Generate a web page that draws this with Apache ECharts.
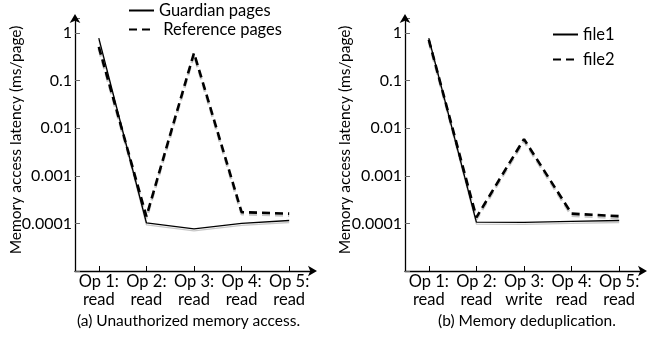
<!DOCTYPE html>
<html><head><meta charset="utf-8">
<script src="https://cdn.jsdelivr.net/npm/echarts@6/dist/echarts.min.js"></script>
<style>html,body{margin:0;padding:0;background:#fff}#c{width:649px;height:337px}</style>
</head><body><div id="c"></div>
<script>
const categoriesA = ['Op 1:\nread', 'Op 2:\nread', 'Op 3:\nread', 'Op 4:\nread', 'Op 5:\nread'];
const categoriesB = ['Op 1:\nread', 'Op 2:\nread', 'Op 3:\nwrite', 'Op 4:\nread', 'Op 5:\nread'];
const guardianPages = [0.78, 1.03e-4, 7.7e-5, 1.0e-4, 1.15e-4];
const referencePages = [0.51, 1.4e-4, 0.38, 1.72e-4, 1.6e-4];
const file1 = [0.78, 1.06e-4, 1.05e-4, 1.1e-4, 1.15e-4];
const file2 = [0.72, 1.34e-4, 5.9e-3, 1.6e-4, 1.42e-4];
const yTickLabels = ['1', '0.1', '0.01', '0.001', '0.0001'];
const captionA = '(a) Unauthorized memory access.';
const captionB = '(b) Memory deduplication.';
const yName = 'Memory access latency (ms/page)';

const FONT = 'Lato';
const chart = echarts.init(document.getElementById('c'), null, {renderer: 'canvas'});

function yFmt(v) {
  const l = Math.log10(v);
  const r = Math.round(l);
  if (Math.abs(l - r) < 1e-6 && r <= 0 && r >= -4) return yTickLabels[-r];
  return '';
}
const axisLine = {
  show: true, onZero: false,
  symbol: ['none', 'arrow'], symbolSize: [8, 9], symbolOffset: [0, 4],
  lineStyle: {color: '#000', width: 1.3}
};
function xAxis(i, data) {
  return {
    type: 'category', gridIndex: i, data: data, boundaryGap: true,
    axisLine: axisLine,
    axisTick: {show: true, inside: true, length: 5, alignWithLabel: true, lineStyle: {color: '#000', width: 1}},
    axisLabel: {interval: 0, fontSize: 16.5, lineHeight: 18, margin: 2, color: '#000', fontFamily: FONT},
    splitLine: {show: false}
  };
}
function yAxis(i, gap) {
  return {
    type: 'log', logBase: 10, gridIndex: i, min: 1e-5, max: 2.06,
    axisLine: axisLine,
    axisTick: {show: true, inside: true, length: 5, lineStyle: {color: '#666', width: 1}},
    axisLabel: {formatter: yFmt, fontSize: 16, margin: 3, color: '#000', fontFamily: FONT},
    splitLine: {show: false}, minorTick: {show: false},
    name: yName, nameLocation: 'middle', nameGap: gap, nameMoveOverlap: false,
    nameTextStyle: {fontSize: 15.5, color: '#000', fontFamily: FONT, padding: [0, 0, 0, 9]}
  };
}
const solid = {color: '#000', width: 1.3, type: 'solid', shadowColor: 'rgba(0,0,0,0.22)', shadowOffsetY: 2, shadowBlur: 0};
const dashed = {color: '#000', width: 2.6, type: [8, 5], shadowColor: 'rgba(0,0,0,0.22)', shadowOffsetY: 2, shadowBlur: 0};
function line(name, data, i, style) {
  return {name: name, type: 'line', xAxisIndex: i, yAxisIndex: i, data: data,
    symbol: 'none', lineStyle: style, itemStyle: {color: '#000'}, silent: true};
}
const legendBase = {orient: 'vertical', itemWidth: 25, itemHeight: 14, padding: 0, selectedMode: false,
  itemStyle: {opacity: 0, color: 'rgba(0,0,0,0)', borderWidth: 0},
  textStyle: {fontSize: 16.5, color: '#000', fontFamily: FONT, padding: [0, 0, 0, 0]}};
chart.setOption({
  animation: false,
  backgroundColor: '#fff',
  grid: [
    {left: 75, top: 18, width: 238, height: 253},
    {left: 405, top: 18, width: 238, height: 253}
  ],
  xAxis: [xAxis(0, categoriesA), xAxis(1, categoriesB)],
  yAxis: [yAxis(0, 51), yAxis(1, 52)],
  legend: [
    Object.assign({}, legendBase, {left: 128, top: 2, itemGap: 2,
      data: ['Guardian pages', 'Reference pages'],
      formatter: n => n === 'Reference pages' ? ' ' + n : n}),
    Object.assign({}, legendBase, {left: 552, top: 26, itemGap: 8,
      data: ['file1', 'file2']})
  ],
  series: [
    line('Guardian pages', guardianPages, 0, solid),
    line('Reference pages', referencePages, 0, dashed),
    line('file1', file1, 1, solid),
    line('file2', file2, 1, dashed)
  ],
  graphic: [
    {type: 'text', x: 188.5, y: 321, style: {text: captionA, align: 'center', verticalAlign: 'middle', fontSize: 15.5, fontFamily: FONT, fill: '#000'}},
    {type: 'text', x: 527, y: 321, style: {text: captionB, align: 'center', verticalAlign: 'middle', fontSize: 15.5, fontFamily: FONT, fill: '#000'}}
  ]
});
</script></body></html>
